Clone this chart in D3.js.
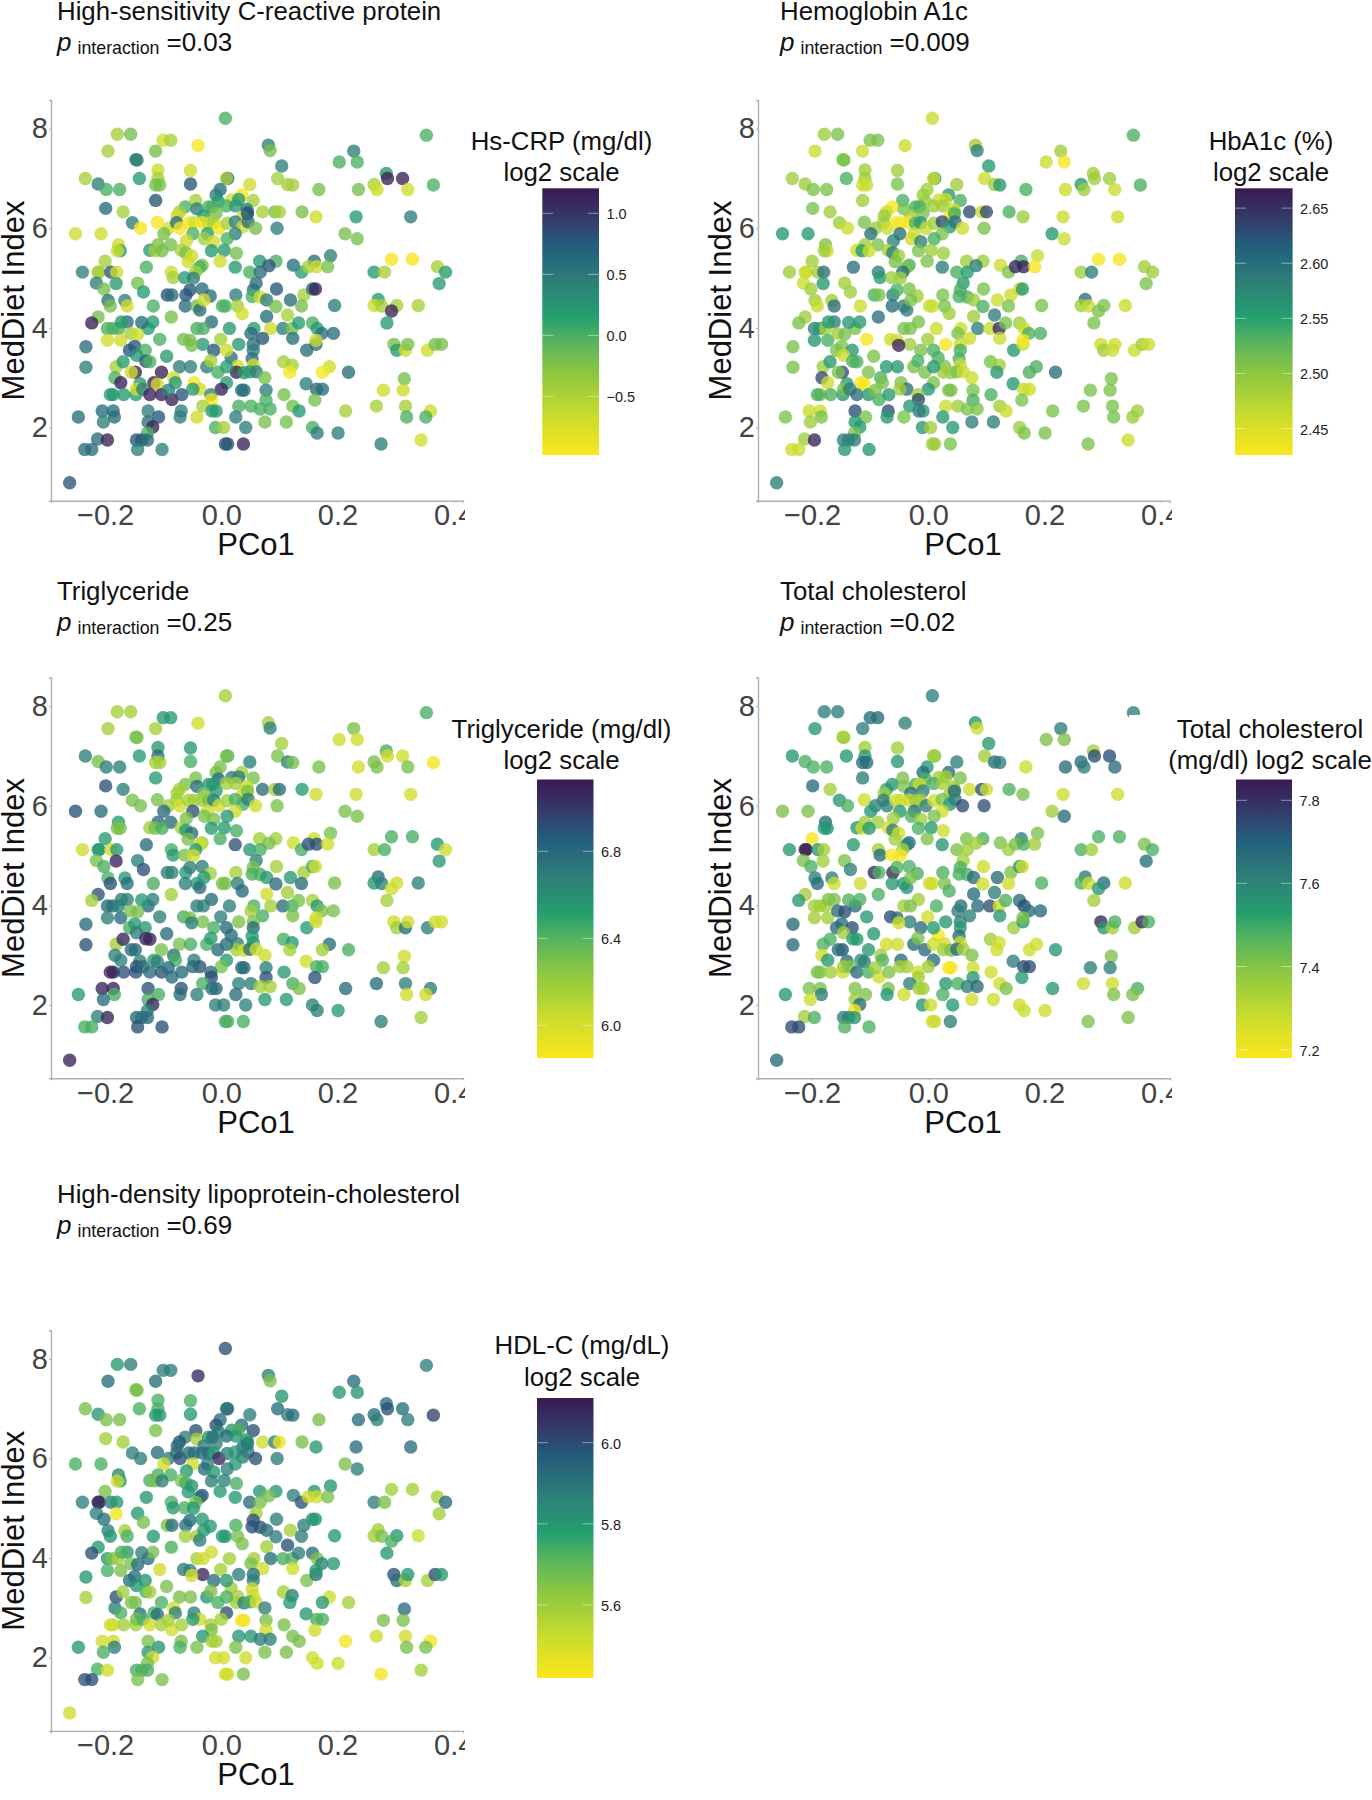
<!DOCTYPE html>
<html><head><meta charset="utf-8">
<script src="https://cdn.jsdelivr.net/npm/d3@7/dist/d3.min.js"></script>
<style>html,body{margin:0;padding:0;background:#fff}svg{display:block}text{font-family:"Liberation Sans",Arial,sans-serif}</style>
</head><body><div id="chart"></div>
<script>
const pco1=[.007,-.179,-.156,.353,-.1,-.087,-.04,.081,.084,-.195,
-.113,.228,-.147,-.145,.203,.234,.104,-.109,-.053,.284,
-.109,-.234,-.141,.011,.009,.097,.286,.312,-.212,-.053,
-.113,-.106,.049,.114,.123,.263,.365,-.198,-.175,.168,
.236,.268,.321,-.002,-.009,.035,-.113,-.044,.055,.018,
.03,-.005,-.199,-.169,-.062,-.072,-.076,-.042,-.022,-.015,
.009,.025,.044,.045,.071,.092,.1,.139,.163,.232,
.326,-.03,-.009,.037,.045,-.11,-.153,-.139,-.091,-.077,
-.071,-.056,-.047,-.033,-.022,-.013,-.004,.01,.024,.037,
.046,.059,.096,-.251,-.207,-.099,-.049,-.024,.024,.213,
.234,-.029,-.06,-.013,.01,-.177,-.109,-.087,-.174,-.179,
-.123,-.114,-.102,-.069,-.061,-.051,-.017,.005,.026,-.2,
-.057,-.002,.066,.094,.124,.16,.188,.293,.329,.372,
.386,.375,-.129,-.033,-.037,.024,.082,-.239,-.212,-.21,
-.19,-.18,-.086,-.044,.049,.067,.138,.15,.164,.183,
.263,.281,-.215,-.181,-.144,-.083,-.063,-.048,.06,-.202,
-.134,-.093,-.085,-.061,-.054,-.033,-.019,.025,.055,.095,
.142,.157,.162,.053,.067,.078,.119,.27,-.195,-.166,
-.191,-.162,-.117,-.062,-.042,-.037,-.03,.002,.007,.028,
.094,.138,.195,.263,.276,.302,.339,.293,.036,.114,
.078,-.212,-.223,-.162,-.086,-.017,-.196,-.187,-.177,-.172,
-.126,-.118,-.137,-.042,-.031,.014,.056,.085,.106,.122,
.133,.157,.165,.285,-.196,-.173,-.156,-.144,.051,.071,
.123,.173,.193,-.233,-.106,-.065,-.054,-.032,-.051,-.013,
-.001,.03,.055,.055,.147,.163,.163,.297,.302,.317,
.321,.355,.368,.379,-.158,-.149,-.131,-.146,-.094,-.072,
-.053,-.025,-.018,.017,.009,.028,.053,.055,.107,.122,
.186,.219,.174,.118,-.181,-.233,-.169,-.13,-.123,-.148,
-.103,-.155,-.006,.026,.009,.039,.049,.06,-.183,-.082,
.075,-.173,-.116,-.14,-.11,-.079,-.047,-.037,-.049,.009,
.146,.315,.279,.313,-.186,-.191,-.168,-.147,-.146,-.135,
-.123,-.103,-.085,-.068,-.091,0,.035,.039,.077,.164,
.174,.108,-.018,-.017,.077,.161,-.032,.03,
.051,.067,.084,.123,.134,.214,.267,.317,.36,-.205,
-.186,-.126,-.069,-.009,-.016,-.246,-.184,-.108,-.071,-.042,
-.203,.025,-.126,-.118,-.01,.004,.042,.075,.112,.157,
.165,.201,.319,.352,-.127,-.213,-.196,-.146,-.137,-.127,
-.235,-.223,-.144,-.102,.007,.011,.038,.275,.344,-.261];
const medDiet=[8.21,7.89,7.89,7.87,7.77,7.77,7.66,7.67,7.56,7.55,
7.55,7.55,7.38,7.37,7.33,7.33,7.25,7.17,7.16,7.1,
7,7,7,7,7,7,7,7,6.89,6.89,
6.87,6.87,6.88,6.88,6.87,6.88,6.87,6.78,6.78,6.78,
6.78,6.78,6.78,6.78,6.67,6.67,6.56,6.56,6.56,6.57,
6.58,6.54,6.4,6.33,6.43,6.33,6.25,6.39,6.43,6.43,
6.45,6.45,6.38,6.32,6.33,6.33,6.33,6.33,6.23,6.23,
6.23,6.25,6.3,6.23,6.29,6.12,6.11,6,6,6.11,
6,6.11,6.11,6.11,6.1,6.11,6,6.1,6.13,6.03,
6.13,6,6,5.89,5.89,5.89,5.89,5.89,5.89,5.89,
5.79,5.79,5.75,5.73,5.79,5.67,5.67,5.67,5.55,5.55,
5.56,5.55,5.55,5.56,5.51,5.45,5.55,5.56,5.5,5.34,
5.33,5.34,5.34,5.34,5.26,5.34,5.45,5.38,5.38,5.23,
5.12,4.89,5.22,5.26,5.22,5.22,5.25,5.12,5.12,5.12,
5.12,5.12,5.12,5.12,5.12,5.12,5.12,5.23,5.23,5.23,
5.12,5.12,4.9,4.89,4.9,5.01,5.01,5,4.9,4.78,
4.72,4.66,4.66,4.66,4.76,4.78,4.64,4.66,4.76,4.78,
4.66,4.78,4.78,4.63,4.62,4.56,4.56,4.57,4.55,4.55,
4.44,4.44,4.44,4.44,4.44,4.36,4.56,4.44,4.44,4.44,
4.43,4.44,4.45,4.45,4.44,4.45,4.45,4.34,4.29,4.26,
4.23,4.22,4.1,4.12,4.22,4.12,3.99,3.99,3.99,4.12,
3.99,4.12,4.11,3.99,3.99,3.99,3.99,3.99,3.99,3.99,
4.1,4.1,3.99,4.1,3.75,3.75,3.89,3.87,3.89,3.79,
3.79,3.89,3.89,3.62,3.77,3.77,3.75,3.67,3.65,3.55,
3.77,3.67,3.67,3.55,3.55,3.67,3.75,3.67,3.55,3.55,
3.67,3.55,3.67,3.67,3.55,3.63,3.55,3.45,3.43,3.22,
3.22,3.22,3.34,3.4,3.55,3.23,3.38,3.25,3.32,3.25,
3.22,3.11,3.11,3.11,3.22,3.21,3.32,3.33,3.32,3.11,
3.11,3.11,3.11,3.11,3.22,3.1,3.12,3.12,3,3,
3,2.9,2.9,2.88,2.87,2.9,2.9,2.77,2.77,2.9,
2.88,2.98,2.75,2.75,2.66,2.66,2.66,2.66,2.77,2.77,
2.66,2.66,2.56,2.66,2.75,2.77,2.75,2.75,2.75,2.77,
2.77,2.66,2.66,2.56,2.55,2.55,2.43,2.43,
2.43,2.37,2.37,2.43,2.33,2.33,2.43,2.43,2.33,2.33,
2.33,2.33,2.33,2.33,2.33,2.21,2.21,2.21,2.21,2.21,
2.11,2.21,2.11,2.01,2,2,2,2.11,2.11,2,
1.89,1.89,2.21,2.21,1.89,1.77,1.75,1.75,1.75,1.75,
1.56,1.56,1.56,1.56,1.67,1.67,1.67,1.67,1.75,.89];
const hsCRP=[0,-.45,-.2,0,-.7,-.45,-.95,.45,-.2,-.45,
-.2,.45,.45,.45,0,0,.45,-.7,-.7,.2,
-.45,-.45,.2,.8,-.45,-.45,1.15,1.15,.45,.8,
-.2,-.2,-.7,-.45,-.45,-.45,0,0,0,-.2,
-.2,-.7,-.7,.6,.45,-.95,.8,-.45,-.45,-.7,
.2,.2,.6,-.45,0,-.45,-.7,.45,0,0,
0,.2,.45,.6,-.45,-.2,-.45,-.2,-.7,.2,
.45,.2,-.2,-.7,.8,-.95,.45,-.95,-.7,.6,
-.95,-.95,-.7,-.95,-.7,-.45,-.95,-.45,.45,-.7,
.6,-.2,.45,-.7,-.7,-.2,0,.2,.45,-.2,
-.2,-.45,-.7,-.7,0,-.7,-.2,-.2,.2,-.7,
.2,-.45,-.2,-.45,-.2,-.7,.2,.2,-.2,-.45,
-.7,-.7,.2,0,.6,.6,.45,-.95,-.95,-.45,
.2,.2,0,-.2,0,.2,.8,.45,-.45,-.45,
.8,-.7,-.7,-.45,0,.6,.2,-.45,-.7,-.2,
.2,-.45,.45,.2,-.2,-.45,.2,.45,.6,-.2,
.2,.8,.6,.8,.8,.6,.6,.45,.6,.8,
-.45,.6,1.15,0,-.7,.45,.6,.2,.6,.45,
-.2,-.7,0,.6,-.2,.6,-.7,0,0,-.45,
-.2,-.2,.45,-.7,-.45,-.45,-.45,1.15,-.7,-.45,
.6,-.2,1.15,.6,-.2,.6,0,0,0,.2,
.2,.2,.6,0,0,.2,.2,-.7,.45,-.2,
.2,0,.2,.2,-.7,-.7,-.45,-.7,.6,.8,
.6,.6,.6,.6,0,-.2,-.2,.2,-.2,.8,
-.45,.2,.6,.45,.6,.6,-.7,-.2,.2,-.7,
-.2,-.7,-.2,-.2,.8,.8,0,.2,.2,.45,
.45,.45,-.45,.6,-.7,-.7,.6,-.7,-.45,-.45,
-.7,.6,-.95,-.95,-.45,.45,.2,.8,0,1.15,
1.15,-.7,0,1.15,.2,.2,.2,.45,0,-.7,
-.2,1.15,1.15,.2,-.7,.2,-.95,-.7,.2,.2,
.45,-.2,-.7,-.7,.2,.2,.2,.2,-.7,.45,
1.15,1.15,1.15,.8,.45,1.15,.6,.6,.45,.6,
.6,-.2,.45,-.95,0,-.2,-.45,0,
0,0,0,-.2,.2,-.45,-.45,-.45,-.7,.6,
.6,.45,.45,.2,.2,.6,.6,.8,.45,-.7,
.45,.45,.6,1.15,0,-.45,.45,-.2,-.2,0,
.45,.45,0,0,0,.6,1.15,.8,.8,.6,
.6,.6,.45,.45,.8,.8,1.15,.45,-.7,.8];
const hba1c=[2.46,2.49,2.51,2.535,2.51,2.51,2.46,2.49,2.585,2.46,
2.46,2.49,2.51,2.51,2.46,2.43,2.56,2.49,2.49,2.49,
2.49,2.49,2.535,2.56,2.46,2.46,2.49,2.49,2.49,2.51,
2.46,2.46,2.49,2.49,2.56,2.56,2.535,2.51,2.51,2.535,
2.46,2.49,2.46,2.49,2.49,2.56,2.49,2.535,2.535,2.46,
2.46,2.49,2.51,2.49,2.43,2.46,2.49,2.51,2.535,2.535,
2.49,2.49,2.46,2.49,2.63,2.46,2.63,2.535,2.49,2.46,
2.46,2.49,2.51,2.43,2.535,2.51,2.49,2.46,2.49,2.49,
2.46,2.43,2.43,2.43,2.535,2.56,2.46,2.49,2.63,2.56,
2.6,2.46,2.51,2.56,2.56,2.6,2.6,2.46,2.51,2.56,
2.46,2.46,2.585,2.585,2.535,2.51,2.49,2.51,2.46,2.49,
2.46,2.56,2.46,2.49,2.585,2.49,2.51,2.49,2.49,2.49,
2.51,2.51,2.49,2.49,2.46,2.535,2.46,2.43,2.43,2.49,
2.49,2.51,2.6,2.535,2.51,2.585,2.585,2.49,2.46,2.46,
2.49,2.6,2.585,2.6,2.535,2.56,2.51,2.66,2.66,2.43,
2.49,2.585,2.46,2.56,2.49,2.56,2.49,2.49,2.56,2.49,
2.49,2.535,2.51,2.585,2.535,2.51,2.49,2.51,2.535,2.51,
2.46,2.46,2.56,2.535,2.535,2.49,2.46,2.6,2.49,2.49,
2.46,2.6,2.46,2.6,2.585,2.585,2.51,2.46,2.46,2.51,
2.535,2.51,2.51,2.49,2.46,2.51,2.46,2.51,2.49,2.585,
2.49,2.49,2.51,2.585,2.6,2.51,2.585,2.56,2.49,2.56,
2.51,2.56,2.56,2.51,2.51,2.46,2.46,2.585,2.46,2.66,
2.51,2.49,2.46,2.51,2.56,2.535,2.49,2.51,2.51,2.46,
2.46,2.535,2.535,2.51,2.43,2.46,2.46,2.49,2.66,2.51,
2.49,2.43,2.46,2.535,2.56,2.46,2.43,2.46,2.49,2.46,
2.46,2.46,2.49,2.46,2.51,2.51,2.56,2.46,2.51,2.56,
2.56,2.51,2.535,2.535,2.535,2.51,2.535,2.46,2.51,2.49,
2.535,2.6,2.535,2.56,2.49,2.51,2.56,2.535,2.535,2.63,
2.51,2.51,2.51,2.49,2.56,2.49,2.51,2.46,2.63,2.535,
2.46,2.46,2.43,2.56,2.43,2.51,2.51,2.6,2.49,2.51,
2.56,2.51,2.51,2.51,2.51,2.535,2.535,2.56,2.51,2.585,
2.6,2.56,2.535,2.56,2.51,2.56,2.51,2.51,2.51,2.46,
2.46,2.535,2.49,2.63,2.535,2.51,2.56,2.46,
2.49,2.51,2.51,2.49,2.46,2.51,2.51,2.51,2.49,2.46,
2.46,2.63,2.63,2.56,2.585,2.51,2.51,2.51,2.56,2.51,
2.49,2.56,2.56,2.56,2.56,2.49,2.56,2.585,2.585,2.49,
2.51,2.51,2.51,2.49,2.51,2.49,2.66,2.585,2.585,2.585,
2.46,2.46,2.56,2.56,2.49,2.49,2.51,2.51,2.46,2.585];
const trig=[6.17,6.17,6.17,6.43,6.55,6.55,6.02,6.17,6.68,6.17,
6.17,6.3,6.3,6.3,6.02,6.02,6.17,6.55,6.55,6.43,
6.78,6.68,6.55,6.43,6.3,6.3,6.02,6.02,6.3,6.43,
6.17,6.17,6.68,6.68,6.3,6.3,5.87,6.68,6.68,6.3,
6.02,6.3,6.3,6.3,6.3,6.17,6.55,6.3,6.3,6.68,
6.68,6.78,6.91,6.68,6.3,6.17,6.17,6.78,6.55,6.55,
6.17,6.17,6.02,6.02,6.78,6.17,6.78,6.55,6.02,6.02,
6.02,6.3,6.55,6.02,6.3,6.3,6.3,6.3,6.17,6.17,
6.02,6.17,6.17,6.17,6.3,6.68,6.02,6.17,6.43,6.43,
6.68,6.02,6.3,6.91,6.78,6.78,6.91,6.02,6.02,6.3,
6.3,6.3,6.3,6.3,6.55,6.55,6.78,6.78,6.3,6.3,
6.17,6.3,6.43,6.17,6.55,6.78,6.55,6.55,6.43,6.55,
6.3,6.43,6.17,6.17,6.02,6.02,6.3,6.43,6.43,6.55,
6.02,6.55,6.78,6.17,6.02,6.91,6.3,6.02,6.55,6.55,
6.02,6.55,6.43,6.55,6.55,6.43,6.43,6.91,6.91,6.02,
6.17,6.43,6.3,7.09,6.68,6.55,6.3,6.02,6.68,6.43,
6.91,6.68,6.68,6.55,6.68,6.68,6.17,6.17,6.3,6.17,
6.17,6.43,6.02,6.43,6.43,6.55,6.55,6.78,6.43,6.55,
6.91,6.78,6.43,6.68,6.55,6.78,6.55,6.3,6.3,6.68,
6.78,6.78,6.3,6.55,6.68,6.02,6.68,6.02,6.78,6.17,
6.02,6.91,6.17,6.68,6.17,6.78,6.78,6.78,6.68,6.68,
6.78,6.68,6.55,6.68,6.68,6.68,6.43,6.17,6.78,6.43,
6.3,6.17,6.55,6.17,6.68,6.78,6.3,6.3,6.17,6.43,
6.3,6.3,6.3,6.78,6.68,6.43,6.3,6.3,6.68,6.43,
6.68,6.3,6.3,6.78,6.55,6.02,6.02,6.02,6.17,6.78,
6.02,6.68,6.02,6.02,6.43,6.55,6.55,6.68,6.78,6.3,
6.43,6.43,6.55,6.78,6.78,6.68,6.55,6.55,6.43,6.55,
6.78,6.43,6.17,6.17,6.17,6.91,7.09,7.09,7.09,6.78,
6.3,6.78,6.78,6.17,6.78,6.02,6.78,6.02,6.68,6.78,
6.02,6.68,6.55,6.68,6.68,6.43,6.68,6.91,6.78,6.55,
6.02,6.02,6.17,6.17,7.09,7.09,6.91,6.91,6.91,6.78,
6.78,6.91,6.78,6.78,6.78,6.3,6.78,6.78,6.68,6.43,
6.43,6.55,6.78,6.91,6.91,6.91,6.43,6.68,
6.68,6.17,6.17,6.43,6.3,6.78,6.78,6.68,6.68,7.09,
7.09,6.91,6.91,6.78,6.78,6.55,6.43,6.43,6.78,6.68,
6.78,6.78,6.43,7.09,6.68,6.68,6.68,6.55,6.55,6.68,
6.68,6.55,6.02,6.02,6.68,6.68,7.09,6.78,6.78,6.78,
6.43,6.43,6.91,6.91,6.43,6.43,6.43,6.68,6.17,7.09];
const totalChol=[7.62,7.62,7.62,7.62,7.67,7.67,7.62,7.55,7.27,7.55,
7.62,7.62,7.35,7.35,7.41,7.41,7.55,7.35,7.35,7.35,
7.55,7.55,7.55,7.41,7.35,7.35,7.74,7.74,7.48,7.55,
7.67,7.67,7.62,7.67,7.62,7.67,7.55,7.48,7.48,7.27,
7.67,7.62,7.67,7.55,7.67,7.67,7.62,7.41,7.41,7.35,
7.35,7.48,7.67,7.35,7.55,7.55,7.35,7.41,7.48,7.27,
7.48,7.35,7.35,7.41,7.27,7.74,7.27,7.48,7.41,7.27,
7.27,7.67,7.62,7.35,7.67,7.27,7.55,7.48,7.62,7.62,
7.62,7.27,7.27,7.27,7.35,7.35,7.62,7.27,7.41,7.55,
7.62,7.74,7.74,7.41,7.41,7.55,7.55,7.67,7.27,7.35,
7.67,7.48,7.35,7.35,7.41,7.67,7.35,7.35,7.55,7.55,
7.55,7.27,7.55,7.27,7.62,7.27,7.48,7.55,7.27,7.19,
7.35,7.41,7.41,7.48,7.41,7.62,7.41,7.48,7.48,7.41,
7.48,7.67,7.55,7.67,7.62,7.55,7.35,7.55,7.83,7.83,
7.55,7.35,7.35,7.35,7.41,7.35,7.35,7.41,7.48,7.35,
7.48,7.35,7.41,7.35,7.41,7.67,7.19,7.19,7.35,7.48,
7.62,7.83,7.48,7.83,7.48,7.48,7.48,7.48,7.48,7.27,
7.41,7.55,7.27,7.48,7.48,7.67,7.67,7.62,7.62,7.62,
7.67,7.27,7.27,7.55,7.55,7.55,7.41,7.27,7.27,7.41,
7.27,7.27,7.48,7.48,7.27,7.67,7.27,7.55,7.48,7.62,
7.67,7.35,7.55,7.41,7.48,7.35,7.35,7.35,7.35,7.41,
7.67,7.48,7.48,7.35,7.41,7.48,7.67,7.67,7.74,7.27,
7.48,7.67,7.74,7.35,7.35,7.35,7.67,7.74,7.62,7.62,
7.55,7.67,7.67,7.67,7.55,7.74,7.67,7.62,7.27,7.67,
7.27,7.55,7.62,7.55,7.35,7.55,7.41,7.83,7.55,7.35,
7.48,7.35,7.83,7.48,7.67,7.67,7.74,7.35,7.55,7.27,
7.27,7.67,7.41,7.19,7.55,7.27,7.67,7.27,7.35,7.27,
7.27,7.55,7.27,7.27,7.48,7.67,7.48,7.55,7.55,7.74,
7.55,7.67,7.67,7.35,7.27,7.41,7.67,7.35,7.27,7.35,
7.41,7.55,7.55,7.67,7.62,7.48,7.67,7.35,7.35,7.67,
7.62,7.41,7.62,7.62,7.41,7.41,7.35,7.27,7.35,7.41,
7.67,7.48,7.27,7.41,7.35,7.35,7.19,7.19,7.27,7.74,
7.74,7.27,7.27,7.35,7.55,7.55,7.62,7.55,
7.48,7.62,7.67,7.27,7.41,7.55,7.27,7.27,7.48,7.41,
7.41,7.41,7.41,7.35,7.35,7.55,7.62,7.41,7.55,7.27,
7.27,7.48,7.35,7.67,7.55,7.27,7.55,7.27,7.27,7.27,
7.27,7.27,7.41,7.41,7.19,7.35,7.48,7.62,7.62,7.55,
7.74,7.74,7.48,7.48,7.27,7.27,7.62,7.41,7.41,7.67];
const hdl=[5.99,5.8,5.87,5.87,5.87,5.87,6.08,5.87,5.66,5.92,
5.92,5.92,5.66,5.66,5.8,5.8,5.8,5.73,5.73,5.92,
5.73,5.66,5.73,5.92,5.92,5.92,5.99,5.92,5.8,5.8,
5.8,5.8,5.87,5.87,5.92,5.92,6.02,5.66,5.66,5.66,
5.92,5.87,5.87,5.92,5.99,5.92,5.66,5.99,5.99,5.8,
5.73,5.87,5.59,5.59,5.87,5.99,5.92,5.59,5.8,5.92,
5.92,5.8,5.8,5.8,5.51,5.87,5.44,5.66,5.8,5.92,
5.92,5.87,5.87,5.92,5.87,5.92,5.87,5.87,5.87,5.92,
5.99,5.92,5.92,5.92,5.92,5.8,6.08,5.87,5.8,5.87,
5.87,5.99,5.87,5.73,5.73,5.51,5.51,5.87,5.8,5.66,
5.87,5.92,5.8,5.8,5.87,5.87,5.73,5.73,5.8,5.51,
5.73,5.66,5.87,5.66,5.73,5.8,5.87,5.87,5.73,5.66,
5.8,5.8,5.8,5.8,5.87,5.8,5.8,5.59,5.59,5.59,
5.92,5.59,5.8,5.99,5.92,5.8,5.66,5.87,6.08,6.08,
5.87,5.8,5.73,5.66,5.92,5.66,5.99,5.51,5.51,5.66,
5.87,5.66,5.87,5.44,5.8,5.8,5.73,5.8,5.59,5.92,
5.66,5.66,5.92,5.92,5.92,5.8,5.8,5.73,5.99,5.87,
5.87,5.8,5.8,5.99,5.99,5.92,5.59,5.59,5.87,5.59,
5.8,5.73,5.8,5.59,5.59,5.87,5.8,5.8,5.8,5.66,
5.87,5.87,5.8,5.59,5.66,5.8,5.51,5.73,5.66,5.99,
5.59,5.8,5.99,5.8,5.73,5.51,5.8,5.66,5.59,5.73,
5.92,5.66,5.87,5.59,5.51,5.59,5.59,5.92,5.73,5.73,
5.87,5.92,5.66,5.8,5.73,5.66,5.66,5.92,5.66,5.51,
5.51,5.87,5.8,5.8,5.51,5.87,5.87,6.08,5.51,5.92,
5.59,5.87,5.92,5.87,5.66,5.92,5.8,5.99,5.92,5.59,
5.8,5.59,5.99,5.8,5.92,5.92,5.8,5.8,5.66,5.66,
5.66,5.8,5.66,5.59,5.8,5.59,5.51,5.51,5.59,5.87,
5.51,5.59,5.8,5.8,5.99,5.59,5.59,5.73,5.59,5.66,
5.73,5.66,5.73,5.59,5.73,5.87,5.73,5.51,5.87,5.51,
5.87,5.73,5.73,5.92,5.92,5.87,5.87,5.51,5.8,5.99,
5.8,5.92,5.66,5.66,5.51,5.51,5.59,5.59,5.66,5.73,
5.51,5.59,5.51,5.59,5.59,5.59,5.44,5.44,5.66,5.73,
5.73,5.66,5.59,5.66,5.51,5.51,5.8,5.8,
5.8,5.87,5.87,5.66,5.66,5.44,5.51,5.51,5.44,5.51,
5.51,5.66,5.66,5.59,5.59,5.8,5.87,5.8,5.73,5.66,
5.73,5.66,5.8,5.51,5.51,5.51,5.51,5.66,5.66,5.51,
5.51,5.51,5.66,5.66,5.66,5.73,5.51,5.73,5.73,5.73,
5.99,5.99,5.66,5.66,5.51,5.51,5.66,5.44,5.59,5.51];

const colorStops=[[0,"#fbe61d"],[.15,"#c8dc2e"],[.3,"#8fc83f"],[.42,"#5ab55d"],[.52,"#239f6f"],[.65,"#2d7f78"],[.79,"#245d7c"],[.88,"#333d6b"],[1,"#3b1a52"]];
const xTicks=[-.2,0,.2,.4], yTicks=[2,4,6,8];
const titles=["High-sensitivity C-reactive protein","Hemoglobin A1c","Triglyceride","Total cholesterol","High-density lipoprotein-cholesterol"];
const pInteraction=["0.03","0.009","0.25","0.02","0.69"];
const legendTitles=[["Hs-CRP (mg/dl)","log2 scale"],["HbA1c (%)","log2 scale"],["Triglyceride (mg/dl)","log2 scale"],["Total cholesterol","(mg/dl) log2 scale"],["HDL-C (mg/dL)","log2 scale"]];
const series=[hsCRP,hba1c,trig,totalChol,hdl];
const domains=[[-.98,1.205],[2.426,2.668],[5.85,7.13],[7.18,7.85],[5.42,6.11]];
const legendTicks=[[-.5,0,.5,1],[2.45,2.5,2.55,2.6,2.65],[6,6.4,6.8],[7.2,7.4,7.6,7.8],[5.6,5.8,6]];
const tickFmt=[".1f",".2f",".1f",".1f",".1f"];
const origins=[[0,0],[707,0],[0,577.5],[707,577.5],[0,1230.2]];
const titleY=[[19.5,51],[19.5,51],[599.5,631],[599.5,631],[1202.5,1234]];
const titleX=[57,780,57,780,57];
const legendBox=[[542.3,188.3,599,455],[1235,188.3,1292.6,455],[537,779.5,593.5,1058],[1236,779.5,1292,1058],[537,1398,593.5,1678]];
const legendCx=[561.5,1271,561.5,1270,582];
const legendTY=[[150,181],[150,181],[738,769],[738,769],[1354,1386]];

const svg=d3.select("#chart").append("svg").attr("width",1372).attr("height",1800);
const defs=svg.append("defs");
const grad=defs.append("linearGradient").attr("id","vir").attr("x1",0).attr("x2",0).attr("y1",1).attr("y2",0);
colorStops.forEach(s=>grad.append("stop").attr("offset",s[0]).attr("stop-color",s[1]));
const rampT=d3.scaleLinear().domain(colorStops.map(s=>s[0])).range(colorStops.map(s=>s[1])).interpolate(d3.interpolateRgb).clamp(true);

const L=51,R=463,T=100,B=500.7;
const x=d3.scaleLinear().domain([(L-221.3)/581,(R-221.3)/581]).range([L,R]);
const y=d3.scaleLinear().domain([6-(B-228.3)/49.8,6+(228.3-T)/49.8]).range([B,T]);

series.forEach((vals,i)=>{
  const [ox,oy]=origins[i];
  const g=svg.append("g").attr("transform",`translate(${ox},${oy})`);
  const cid="clip"+i;
  defs.append("clipPath").attr("id",cid).append("rect").attr("x",0).attr("y",T-20).attr("width",R+2).attr("height",B-T+90);
  const gc=g.append("g").attr("clip-path",`url(#${cid})`);
  const norm=d3.scaleLinear().domain(domains[i]).range([0,1]).clamp(true);
  gc.append("g").selectAll("circle").data(vals.map((v,j)=>({v,px:pco1[j],py:medDiet[j]}))).join("circle")
    .attr("cx",d=>x(d.px)).attr("cy",d=>y(d.py)).attr("r",6.7).attr("fill",d=>rampT(norm(d.v))).attr("fill-opacity",.78);
  const ax=gc.append("g").attr("transform",`translate(0,${B})`).call(d3.axisBottom(x).tickValues(xTicks).tickSize(2).tickPadding(2).tickFormat(d3.format(".1f")));
  const ay=gc.append("g").attr("transform",`translate(${L},0)`).call(d3.axisLeft(y).tickValues(yTicks).tickSize(2).tickPadding(1).tickFormat(d3.format("d")));
  [ax,ay].forEach(a=>{a.select(".domain").attr("stroke","#b0b0b0").attr("stroke-width",1.4);a.selectAll("line").attr("stroke","#b0b0b0");
    a.selectAll("text").attr("font-size",29).attr("fill","#444").style("font-family",'"Liberation Sans"');});
  g.append("text").attr("x",256).attr("y",555).attr("text-anchor","middle").attr("font-size",31).attr("fill","#111").text("PCo1");
  g.append("text").attr("transform","translate(24,300.5) rotate(-90)").attr("text-anchor","middle").attr("font-size",31).attr("fill","#111").text("MedDiet Index");

  // titles
  svg.append("text").attr("x",titleX[i]).attr("y",titleY[i][0]).attr("font-size",25.8).attr("fill","#111").text(titles[i]);
  const t2=svg.append("text").attr("x",titleX[i]).attr("y",titleY[i][1]).attr("font-size",26).attr("fill","#111");
  t2.append("tspan").attr("font-style","italic").text("p");
  t2.append("tspan").attr("font-size",17.8).attr("dx",6).attr("dy",3).text("interaction ");
  t2.append("tspan").attr("dx",2).attr("dy",-3).text("=" + pInteraction[i]);

  // legend
  const [bx0,by0,bx1,by1]=legendBox[i];
  if(i===3) svg.append("rect").attr("x",1129).attr("y",715).attr("width",243).attr("height",60).attr("fill","#fff");
  legendTitles[i].forEach((t,k)=>svg.append("text").attr("x",legendCx[i]).attr("y",legendTY[i][k]).attr("text-anchor","middle").attr("font-size",25.8).attr("fill","#111").text(t));
  svg.append("rect").attr("x",bx0).attr("y",by0).attr("width",bx1-bx0).attr("height",by1-by0).attr("fill","url(#vir)");
  const ly=d3.scaleLinear().domain(domains[i]).range([by1,by0]);
  const lg=svg.append("g");
  legendTicks[i].forEach(t=>{
    lg.append("line").attr("x1",bx0).attr("x2",bx0+11).attr("y1",ly(t)).attr("y2",ly(t)).attr("stroke","#fff").attr("stroke-opacity",.45);
    lg.append("line").attr("x1",bx1-11).attr("x2",bx1).attr("y1",ly(t)).attr("y2",ly(t)).attr("stroke","#fff").attr("stroke-opacity",.45);
    lg.append("text").attr("x",bx1+7.5).attr("y",ly(t)+6).attr("font-size",14.5).attr("fill","#222").text(d3.format(tickFmt[i])(t));
  });
});
</script></body></html>
